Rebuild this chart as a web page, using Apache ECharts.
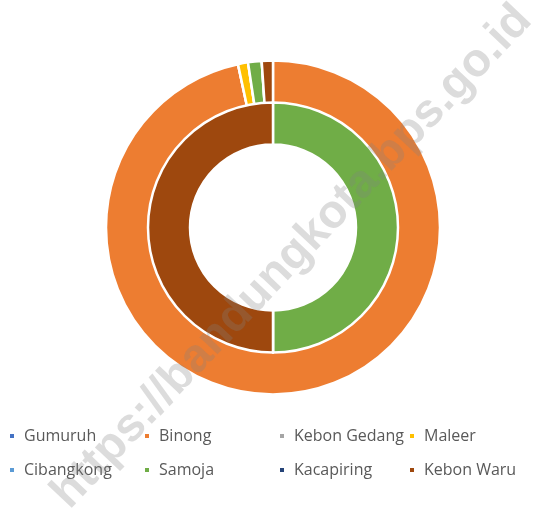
<!DOCTYPE html>
<html>
<head>
<meta charset="utf-8">
<title>Kecamatan Batununggal</title>
<script src="https://cdn.jsdelivr.net/npm/echarts/dist/echarts.min.js"></script>
<style>
    html, body { margin: 0; padding: 0; background: #fff; }
    /* the chart fills the window */
    .echarts { width: 533px; height: 514px; }
</style>
</head>
<body>
<div class="echarts" id="echart"></div>
<script>
// kelurahan (same order in both rings, clockwise from 12 o'clock)
var categories = ['Gumuruh', 'Binong', 'Kebon Gedang', 'Maleer', 'Cibangkong', 'Samoja', 'Kacapiring', 'Kebon Waru'];
// outer ring (share in %)
var outerValues = [0, 96.6, 0, 0.97, 0, 1.31, 0, 1.08];
// inner ring
var innerValues = [0, 0, 0, 0, 0, 1, 0, 1];
// Excel office palette
var colors = ['#4472C4', '#ED7D31', '#A5A5A5', '#FFC000', '#5B9BD5', '#70AD47', '#264478', '#9E480E'];
// legend columns: [top row, bottom row]
var legendCols = [
    ['Gumuruh', 'Cibangkong'],
    ['Binong', 'Samoja'],
    ['Kebon Gedang', 'Kacapiring'],
    ['Maleer', 'Kebon Waru']
];
var legendLeft = [8, 143, 278, 408];

function toData(values) {
    return categories.map(function (name, i) {
        return { name: name, value: values[i] };
    });
}

// one vertical legend per column so the columns line up
var legends = legendCols.map(function (col, i) {
    return {
        orient: 'vertical',
        left: legendLeft[i],
        top: 426,
        padding: 0,
        itemGap: 14,
        itemWidth: 6,
        itemHeight: 6,
        icon: 'rect',
        selectedMode: false,
        data: col,
        textStyle: {
            color: '#595959',
            fontFamily: 'Open Sans',
            fontSize: 16,
            lineHeight: 20,
            padding: [0, 0, 0, 4]
        }
    };
});

var pieStyle = {
    borderColor: '#fff',
    borderWidth: 2.5
};

var option = {
    color: colors,
    animation: false,
    legend: legends,
    series: [
        {
            name: 'outer',
            type: 'pie',
            center: [273, 227.5],
            radius: [124, 167],
            startAngle: 90,
            clockwise: true,
            label: { show: false },
            labelLine: { show: false },
            emphasis: { disabled: true },
            itemStyle: pieStyle,
            data: toData(outerValues)
        },
        {
            name: 'inner',
            type: 'pie',
            center: [273, 227.5],
            radius: [83, 125],
            startAngle: 90,
            clockwise: true,
            label: { show: false },
            labelLine: { show: false },
            emphasis: { disabled: true },
            itemStyle: pieStyle,
            data: toData(innerValues)
        }
    ],
    // source watermark across the picture
    graphic: [
        {
            type: 'text',
            x: 292,
            y: 257,
            rotation: 46.5 * Math.PI / 180,
            z: 100,
            silent: true,
            style: {
                text: 'https://bandungkota.bps.go.id',
                font: 'bold 47px "Liberation Sans"',
                fill: 'rgba(128,128,128,0.28)',
                align: 'center',
                verticalAlign: 'middle'
            }
        }
    ]
};

var echart = echarts.init(document.getElementById('echart'));
echart.setOption(option);
</script>
</body>
</html>
